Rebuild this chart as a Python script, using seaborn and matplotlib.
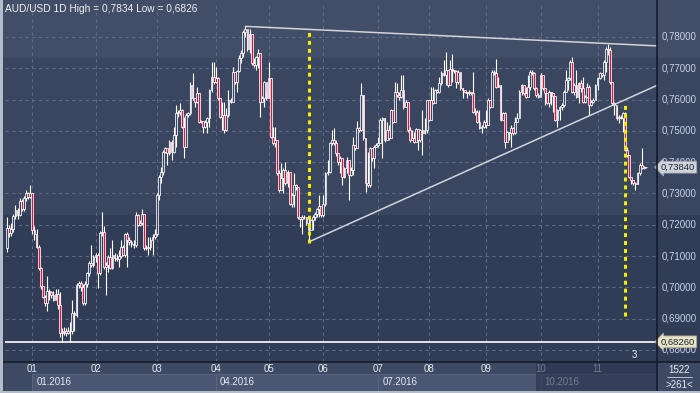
import numpy as np
import pandas as pd
import matplotlib
matplotlib.use("Agg")
import matplotlib.pyplot as plt
import seaborn as sns
from matplotlib.patches import Rectangle
from matplotlib.lines import Line2D
import matplotlib.transforms as mtransforms

sns.set_style("dark")
plt.rcParams['font.family'] = ['Liberation Sans', 'DejaVu Sans']

# ---------------- data ----------------
title = "AUD/USD 1D High = 0,7834 Low = 0,6826"
month_labels = ["01", "02", "03", "04", "05", "06", "07", "08", "09", "10", "11"]
quarter_labels = ["01.2016", "04.2016", "07.2016", "10.2016"]
bars_per_month = [12, 30, 29, 28, 25, 26, 26, 24, 27, 26, 27, 24]   # Dec 2015 .. Nov 2016
first_open = 0.7125
close = [
    0.7190, 0.7175, 0.7185, 0.7228, 0.7248, 0.7232, 0.7275, 0.7250, 0.7285, 0.7300, 0.7290, 0.7300,
    0.7183, 0.7170, 0.7130, 0.7061, 0.7003, 0.6970, 0.6950, 0.6987, 0.6985, 0.6975, 0.6960, 0.6980, 0.6945, 0.6853, 0.6858, 0.6860, 0.6855, 0.6860, 0.6862, 0.6917, 0.6912, 0.7008, 0.7013, 0.7000, 0.6950, 0.7010, 0.7045, 0.7077, 0.7072, 0.7098,
    0.7104, 0.7045, 0.7173, 0.7178, 0.7066, 0.7072, 0.7098, 0.7063, 0.7103, 0.7095, 0.7092, 0.7100, 0.7130, 0.7105, 0.7172, 0.7150, 0.7146, 0.7140, 0.7135, 0.7231, 0.7199, 0.7205, 0.7236, 0.7125, 0.7125, 0.7130, 0.7150, 0.7162, 0.7172,
    0.7295, 0.7353, 0.7370, 0.7433, 0.7444, 0.7430, 0.7465, 0.7433, 0.7487, 0.7556, 0.7561, 0.7567, 0.7513, 0.7449, 0.7550, 0.7556, 0.7646, 0.7604, 0.7593, 0.7620, 0.7529, 0.7530, 0.7513, 0.7529, 0.7540, 0.7630, 0.7673, 0.7657,
    0.7670, 0.7604, 0.7545, 0.7550, 0.7503, 0.7550, 0.7598, 0.7593, 0.7689, 0.7657, 0.7690, 0.7732, 0.7750, 0.7817, 0.7825, 0.7763, 0.7811, 0.7716, 0.7710, 0.7737, 0.7748, 0.7593, 0.7604, 0.7657, 0.7604,
    0.7668, 0.7481, 0.7460, 0.7470, 0.7364, 0.7311, 0.7348, 0.7375, 0.7332, 0.7370, 0.7268, 0.7295, 0.7327, 0.7322, 0.7226, 0.7220, 0.7226, 0.7225, 0.7205, 0.7183, 0.7215, 0.7226, 0.7236, 0.7250, 0.7260, 0.7231,
    0.7268, 0.7364, 0.7369, 0.7460, 0.7471, 0.7460, 0.7428, 0.7401, 0.7412, 0.7353, 0.7380, 0.7407, 0.7359, 0.7375, 0.7455, 0.7444, 0.7508, 0.7502, 0.7614, 0.7476, 0.7332, 0.7327, 0.7444, 0.7412, 0.7449, 0.7455,
    0.7460, 0.7534, 0.7540, 0.7471, 0.7502, 0.7476, 0.7566, 0.7529, 0.7625, 0.7614, 0.7609, 0.7630, 0.7577, 0.7593, 0.7502, 0.7471, 0.7476, 0.7465, 0.7505, 0.7470, 0.7502, 0.7492, 0.7502, 0.7598,
    0.7534, 0.7598, 0.7588, 0.7630, 0.7625, 0.7652, 0.7684, 0.7680, 0.7694, 0.7646, 0.7699, 0.7694, 0.7690, 0.7657, 0.7689, 0.7636, 0.7630, 0.7625, 0.7620, 0.7625, 0.7620, 0.7561, 0.7561, 0.7529, 0.7508, 0.7513, 0.7529,
    0.7518, 0.7598, 0.7577, 0.7689, 0.7684, 0.7641, 0.7646, 0.7534, 0.7556, 0.7465, 0.7497, 0.7492, 0.7508, 0.7492, 0.7529, 0.7540, 0.7625, 0.7646, 0.7620, 0.7609, 0.7641, 0.7689, 0.7684, 0.7636, 0.7614, 0.7609,
    0.7678, 0.7636, 0.7620, 0.7588, 0.7625, 0.7620, 0.7612, 0.7534, 0.7566, 0.7577, 0.7582, 0.7625, 0.7662, 0.7668, 0.7721, 0.7625, 0.7646, 0.7609, 0.7652, 0.7636, 0.7593, 0.7609, 0.7641, 0.7582, 0.7593, 0.7600, 0.7646,
    0.7668, 0.7684, 0.7678, 0.7721, 0.7763, 0.7760, 0.7657, 0.7588, 0.7582, 0.7540, 0.7545, 0.7542, 0.7556, 0.7439, 0.7423, 0.7353, 0.7343, 0.7335, 0.7330, 0.7364, 0.7391, 0.7382, 0.7384, 0.7384,
]
high = [
    0.7226, 0.7200, 0.7205, 0.7235, 0.7262, 0.7255, 0.7285, 0.7283, 0.7292, 0.7310, 0.7305, 0.7327,
    0.7300, 0.7195, 0.7185, 0.7135, 0.7065, 0.7005, 0.6975, 0.7035, 0.6995, 0.6990, 0.6990, 0.6995, 0.6995, 0.6985, 0.6870, 0.6875, 0.6870, 0.6872, 0.6890, 0.6960, 0.6925, 0.7015, 0.7020, 0.7020, 0.7010, 0.7020, 0.7050, 0.7085, 0.7135, 0.7105,
    0.7110, 0.7110, 0.7180, 0.7242, 0.7195, 0.7080, 0.7105, 0.7125, 0.7151, 0.7110, 0.7108, 0.7119, 0.7151, 0.7135, 0.7175, 0.7178, 0.7160, 0.7150, 0.7150, 0.7240, 0.7236, 0.7215, 0.7252, 0.7231, 0.7135, 0.7162, 0.7160, 0.7170, 0.7188,
    0.7300, 0.7360, 0.7385, 0.7440, 0.7450, 0.7445, 0.7470, 0.7471, 0.7513, 0.7582, 0.7567, 0.7588, 0.7570, 0.7545, 0.7556, 0.7560, 0.7657, 0.7684, 0.7604, 0.7641, 0.7620, 0.7535, 0.7529, 0.7535, 0.7545, 0.7635, 0.7721, 0.7721,
    0.7705, 0.7673, 0.7604, 0.7593, 0.7593, 0.7572, 0.7630, 0.7604, 0.7705, 0.7689, 0.7694, 0.7742, 0.7758, 0.7822, 0.7834, 0.7811, 0.7825, 0.7811, 0.7732, 0.7740, 0.7763, 0.7748, 0.7610, 0.7660, 0.7625,
    0.7721, 0.7668, 0.7513, 0.7513, 0.7465, 0.7375, 0.7396, 0.7380, 0.7402, 0.7375, 0.7327, 0.7300, 0.7364, 0.7330, 0.7322, 0.7226, 0.7230, 0.7230, 0.7226, 0.7221, 0.7220, 0.7230, 0.7240, 0.7255, 0.7295, 0.7252,
    0.7295, 0.7370, 0.7407, 0.7465, 0.7502, 0.7508, 0.7471, 0.7428, 0.7420, 0.7385, 0.7385, 0.7417, 0.7407, 0.7385, 0.7481, 0.7455, 0.7530, 0.7513, 0.7652, 0.7614, 0.7449, 0.7433, 0.7449, 0.7444, 0.7455, 0.7460,
    0.7481, 0.7540, 0.7545, 0.7540, 0.7529, 0.7518, 0.7570, 0.7566, 0.7657, 0.7652, 0.7625, 0.7678, 0.7678, 0.7600, 0.7593, 0.7513, 0.7502, 0.7497, 0.7510, 0.7500, 0.7505, 0.7566, 0.7540, 0.7600,
    0.7593, 0.7641, 0.7641, 0.7635, 0.7635, 0.7673, 0.7690, 0.7726, 0.7753, 0.7694, 0.7726, 0.7747, 0.7694, 0.7694, 0.7694, 0.7684, 0.7636, 0.7630, 0.7625, 0.7630, 0.7625, 0.7689, 0.7572, 0.7566, 0.7566, 0.7518, 0.7534,
    0.7566, 0.7604, 0.7590, 0.7694, 0.7694, 0.7731, 0.7673, 0.7646, 0.7561, 0.7561, 0.7500, 0.7497, 0.7518, 0.7513, 0.7545, 0.7556, 0.7630, 0.7650, 0.7646, 0.7641, 0.7678, 0.7694, 0.7694, 0.7689, 0.7641, 0.7620,
    0.7684, 0.7678, 0.7625, 0.7620, 0.7630, 0.7625, 0.7620, 0.7612, 0.7570, 0.7580, 0.7590, 0.7630, 0.7694, 0.7673, 0.7725, 0.7737, 0.7652, 0.7694, 0.7657, 0.7662, 0.7673, 0.7614, 0.7652, 0.7646, 0.7600, 0.7605, 0.7650,
    0.7673, 0.7689, 0.7684, 0.7725, 0.7768, 0.7779, 0.7769, 0.7657, 0.7593, 0.7577, 0.7550, 0.7550, 0.7561, 0.7561, 0.7450, 0.7423, 0.7353, 0.7343, 0.7338, 0.7370, 0.7396, 0.7444, 0.7388, 0.7386,
]
low = [
    0.7112, 0.7160, 0.7165, 0.7178, 0.7220, 0.7220, 0.7228, 0.7245, 0.7245, 0.7275, 0.7282, 0.7285,
    0.7170, 0.7150, 0.7125, 0.7055, 0.6995, 0.6965, 0.6940, 0.6923, 0.6960, 0.6965, 0.6955, 0.6965, 0.6930, 0.6840, 0.6826, 0.6848, 0.6845, 0.6850, 0.6826, 0.6850, 0.6860, 0.6905, 0.6998, 0.6990, 0.6945, 0.6945, 0.7000, 0.7035, 0.7065, 0.7065,
    0.7080, 0.6997, 0.7040, 0.7165, 0.7060, 0.6975, 0.7050, 0.7058, 0.7060, 0.7085, 0.7085, 0.7066, 0.7095, 0.7100, 0.7098, 0.7066, 0.7135, 0.7130, 0.7125, 0.7130, 0.7195, 0.7195, 0.7199, 0.7120, 0.7119, 0.7103, 0.7120, 0.7103, 0.7155,
    0.7165, 0.7279, 0.7332, 0.7359, 0.7428, 0.7391, 0.7423, 0.7407, 0.7430, 0.7449, 0.7545, 0.7550, 0.7508, 0.7412, 0.7455, 0.7545, 0.7550, 0.7600, 0.7577, 0.7588, 0.7525, 0.7524, 0.7492, 0.7508, 0.7492, 0.7513, 0.7625, 0.7650,
    0.7652, 0.7600, 0.7540, 0.7503, 0.7492, 0.7500, 0.7545, 0.7590, 0.7593, 0.7650, 0.7625, 0.7689, 0.7716, 0.7737, 0.7800, 0.7755, 0.7748, 0.7710, 0.7705, 0.7694, 0.7700, 0.7545, 0.7593, 0.7577, 0.7600,
    0.7604, 0.7476, 0.7455, 0.7450, 0.7360, 0.7305, 0.7311, 0.7300, 0.7328, 0.7322, 0.7263, 0.7258, 0.7258, 0.7311, 0.7220, 0.7194, 0.7172, 0.7220, 0.7200, 0.7145, 0.7188, 0.7183, 0.7215, 0.7226, 0.7226, 0.7225,
    0.7226, 0.7260, 0.7359, 0.7364, 0.7455, 0.7455, 0.7420, 0.7391, 0.7364, 0.7327, 0.7350, 0.7364, 0.7279, 0.7355, 0.7359, 0.7440, 0.7444, 0.7495, 0.7500, 0.7470, 0.7305, 0.7320, 0.7321, 0.7405, 0.7380, 0.7449,
    0.7449, 0.7460, 0.7412, 0.7465, 0.7492, 0.7470, 0.7476, 0.7525, 0.7529, 0.7609, 0.7600, 0.7604, 0.7570, 0.7577, 0.7498, 0.7465, 0.7470, 0.7460, 0.7465, 0.7439, 0.7465, 0.7423, 0.7490, 0.7492,
    0.7530, 0.7577, 0.7585, 0.7588, 0.7620, 0.7620, 0.7646, 0.7675, 0.7646, 0.7640, 0.7657, 0.7657, 0.7684, 0.7636, 0.7650, 0.7630, 0.7604, 0.7620, 0.7604, 0.7614, 0.7614, 0.7556, 0.7550, 0.7525, 0.7505, 0.7492, 0.7508,
    0.7510, 0.7518, 0.7572, 0.7577, 0.7680, 0.7636, 0.7641, 0.7530, 0.7534, 0.7444, 0.7465, 0.7471, 0.7449, 0.7488, 0.7490, 0.7529, 0.7556, 0.7614, 0.7615, 0.7604, 0.7620, 0.7630, 0.7680, 0.7630, 0.7609, 0.7605,
    0.7614, 0.7630, 0.7582, 0.7585, 0.7577, 0.7582, 0.7561, 0.7530, 0.7513, 0.7534, 0.7566, 0.7577, 0.7625, 0.7630, 0.7662, 0.7620, 0.7614, 0.7605, 0.7588, 0.7625, 0.7590, 0.7588, 0.7605, 0.7550, 0.7580, 0.7590, 0.7609,
    0.7630, 0.7665, 0.7673, 0.7662, 0.7689, 0.7742, 0.7650, 0.7582, 0.7550, 0.7535, 0.7524, 0.7538, 0.7497, 0.7435, 0.7415, 0.7348, 0.7330, 0.7327, 0.7311, 0.7330, 0.7360, 0.7378, 0.7378, 0.7382,
]
period_low = 0.6826
last_price = 0.7384
price_ticks = [0.68, 0.69, 0.70, 0.71, 0.72, 0.73, 0.74, 0.75, 0.76, 0.77, 0.78]
upper_trend_bars = [113, 285]
upper_trend_prices = [0.7834, 0.7779]
lower_trend_bars = [143, 280]
lower_trend_prices = [0.7145, 0.7560]
signal_bars = [143, 293]
signal_top = [0.7818, 0.7585]
signal_bottom = [0.7142, 0.6909]
bar_count_label = "3"
corner_top = "1522"
corner_bottom = ">261<"

# ---------------- derived ----------------
n = len(close)
opens = [first_open] + close[:-1]
df = pd.DataFrame({"bar": np.arange(n), "open": opens, "close": close,
                   "high": high, "low": low})
df["up"] = df["close"] >= df["open"]
month_starts = np.cumsum([0] + bars_per_month)[:-1]   # index of first bar of each month
jan_to_nov_starts = month_starts[1:]

W, H = 700, 393
fig = plt.figure(figsize=(W / 100, H / 100), dpi=100)
fig.patch.set_facecolor("#3a4560")

def fx(px):
    return px / W

def fy(py):
    return 1 - py / H

# background bands (figure level so right price panel shares them)
bands = [(0, 58, "#424d67"), (58, 215, "#3a4560"), (215, 362, "#313c57")]
for y0, y1, c in bands:
    fig.patches.append(Rectangle((0, fy(y1)), 1, (y1 - y0) / H, transform=fig.transFigure,
                                 facecolor=c, edgecolor="none", zorder=-10))

# main axes
ax_left, ax_right, ax_top, ax_bot = 5, 657, 4, 362
ax = fig.add_axes([fx(ax_left), fy(ax_bot), fx(ax_right - ax_left), (ax_bot - ax_top) / H])
ax.patch.set_visible(False)
px_per_bar = 2.109
xl = -0.95
xr = xl + (ax_right - ax_left) / px_per_bar
ax.set_xlim(xl, xr)
ax.set_ylim(0.67616, 0.79054)
for s in ax.spines.values():
    s.set_visible(False)
ax.set_xticks([])
ax.set_yticks([])

grid_c = "#5d6985"
for p in price_ticks:
    ax.axhline(p, color=grid_c, lw=0.8, ls=(0, (3, 3)), zorder=1)
for m in jan_to_nov_starts:
    ax.axvline(m, color=grid_c, lw=0.8, ls=(0, (3, 3)), zorder=1)

# candles
ax.vlines(df["bar"], df["low"], df["high"], color="white", lw=0.8, zorder=3)
body_bottom = np.minimum(df["open"], df["close"])
body_h = np.maximum(np.abs(df["close"] - df["open"]), 0.00012)
face = np.where(df["up"], "#3a4560", "#e3123c")
ax.bar(df["bar"], body_h, bottom=body_bottom, width=0.85, color=face,
       edgecolor="white", linewidth=0.55, zorder=4)

# period low line
ax.axhline(period_low, color="white", lw=1.2, zorder=5)

# trend lines (extended to the right edge)
def extend(bars, prices):
    slope = (prices[1] - prices[0]) / (bars[1] - bars[0])
    return [bars[0], xr], [prices[0], prices[0] + slope * (xr - bars[0])]

ux, uy = extend(upper_trend_bars, upper_trend_prices)
lx, ly = extend(lower_trend_bars, lower_trend_prices)
sns.lineplot(x=ux, y=uy, ax=ax, color="#d0d4dc", lw=1.1, zorder=6)
sns.lineplot(x=lx, y=ly, ax=ax, color="#d0d4dc", lw=1.1, zorder=6)

# yellow dotted signal lines
for b, t, bt in zip(signal_bars, signal_top, signal_bottom):
    ax.plot([b, b], [bt, t], color="#f0f000", lw=2.2, ls=(0, (1.3, 1.3)), zorder=7)

# title
ax.text(0.0, 1, title, transform=ax.transAxes,
        ha="left", va="top", color="#eef1f6", fontsize=7.3)
ax.text(xl + (634 - ax_left) / px_per_bar, 0.6767, bar_count_label, color="#eef1f6",
        fontsize=7, ha="center", va="bottom", zorder=8)

# right price labels
trans = mtransforms.blended_transform_factory(ax.transAxes, ax.transData)
lab_x = 1 + 5 / (ax_right - ax_left)
for p in price_ticks:
    ax.text(lab_x, p, f"{p:.5f}".replace(".", ","), transform=trans, ha="left", va="center",
            color="#c9d2e6", fontsize=7, clip_on=False, zorder=8)
box_x = 1 + 4 / (ax_right - ax_left)
ax.text(box_x, last_price, f"{last_price:.5f}".replace(".", ","), transform=trans,
        ha="left", va="center", color="#1b2438", fontsize=6.8, clip_on=False, zorder=9,
        bbox=dict(boxstyle="larrow,pad=0.15", fc="#cfd4da", ec="#9aa3b0", lw=0.6))
ax.text(box_x, period_low, f"{period_low:.5f}".replace(".", ","), transform=trans,
        ha="left", va="center", color="#1b2438", fontsize=6.8, clip_on=False, zorder=9,
        bbox=dict(boxstyle="larrow,pad=0.15", fc="#e7e3c4", ec="#a8a68e", lw=0.6))

# bottom time axis
axb = fig.add_axes([fx(ax_left), 0, fx(ax_right - ax_left), (H - ax_bot) / H])
axb.set_facecolor("#3e4963")
axb.set_xlim(xl, xr)
axb.set_ylim(0, 1)
axb.set_xticks([])
axb.set_yticks([])
for s in axb.spines.values():
    s.set_visible(False)
quarter_starts = list(month_starts[1::3]) + [xr]
for i, q in enumerate(quarter_labels):
    x0, x1 = quarter_starts[i], quarter_starts[i + 1]
    axb.add_patch(Rectangle((x0, 0.08), x1 - x0, 0.52, facecolor="#4b5672",
                            edgecolor="#5c6782", lw=0.6, zorder=1))
    axb.text(x0 + 2, 0.34, q, ha="left", va="center", color="#e6ebf3", fontsize=7, zorder=2)
for m, lab in zip(jan_to_nov_starts, month_labels):
    axb.text(m, 0.76, lab, ha="center", va="center", color="#e6ebf3", fontsize=7, zorder=2)
# dimmed tail of time axis
axb.add_patch(Rectangle((month_starts[10] - 2, 0), xr - month_starts[10] + 2, 1,
                        facecolor="#27304a", alpha=0.6, edgecolor="none", zorder=3))

# right-bottom corner box
fig.patches.append(Rectangle((fx(657), 0), 1 - fx(657), (H - ax_bot) / H,
                             transform=fig.transFigure, facecolor="#3e4963",
                             edgecolor="none", zorder=-5))
fig.text(fx(679), fy(370), corner_top, ha="center", va="center", color="#e6ebf3", fontsize=7)
fig.text(fx(679), fy(385), corner_bottom, ha="center", va="center", color="#e6ebf3", fontsize=7)
fig.add_artist(Line2D([fx(667), fx(692)], [fy(377), fy(377)], color="#c9d2e6", lw=0.6))

# separators and border
fig.add_artist(Line2D([fx(657), fx(657)], [0, 1], color="#161c29", lw=1.2))
fig.add_artist(Line2D([0, 1], [fy(362), fy(362)], color="#161c29", lw=1.2))
fig.patches.append(Rectangle((0, 0), fx(3), 1, transform=fig.transFigure,
                             facecolor="#b4bcc9", edgecolor="none", zorder=20))
fig.patches.append(Rectangle((0, 0), 1, 2 / H, transform=fig.transFigure,
                             facecolor="#b4bcc9", edgecolor="none", zorder=20))

fig.savefig("out.png", dpi=100)
